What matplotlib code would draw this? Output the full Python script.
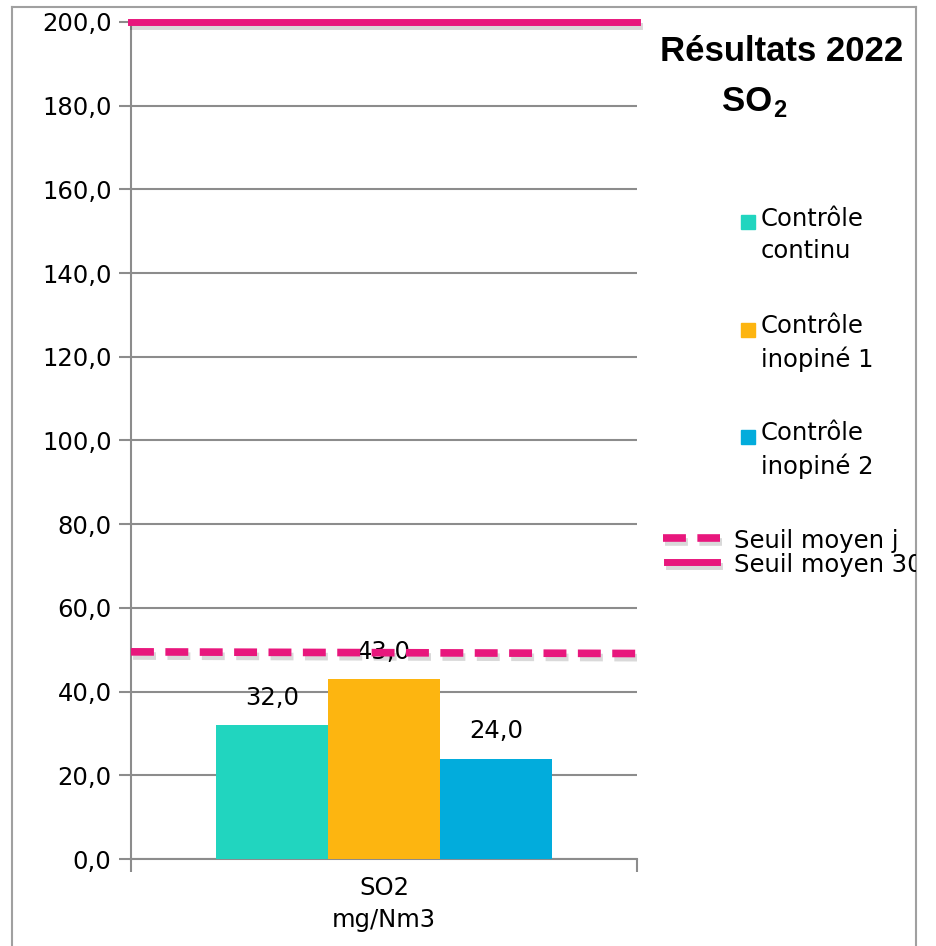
import matplotlib
matplotlib.use("Agg")
import matplotlib.pyplot as plt
import matplotlib.patheffects as pe
from matplotlib.lines import Line2D
from matplotlib.patches import Rectangle

# données
categorie = ["SO2\nmg/Nm3"]
series = ["Contrôle\ncontinu", "Contrôle\ninopiné 1", "Contrôle\ninopiné 2"]
valeurs = [32.0, 43.0, 24.0]
couleurs = ["#21d5bf", "#fdb510", "#02acdc"]
seuil_j = [49.5, 49.1]
seuil_30 = [200.0, 200.0]
seuils_noms = ["Seuil moyen j", "Seuil moyen 30"]
rose = "#e8177d"

plt.rcParams["font.family"] = ["DejaVu Sans"]
fs = 17.5

W, H = 937, 946
fig = plt.figure(figsize=(W / 100, H / 100), dpi=100)

# cadre de fond (bordure du graphique)
cadre = fig.add_axes([12 / W, -0.01, (916 - 12) / W, 1 - 7 / H + 0.01])
cadre.set_xlim(12, 916)
cadre.set_ylim(H + 9.5, 7)
cadre.set_xticks([])
cadre.set_yticks([])
cadre.patch.set_alpha(0)
for s in cadre.spines.values():
    s.set_color("#a0a0a0")
    s.set_linewidth(1.5)

ax = fig.add_axes([131 / W, 1 - 859 / H, (637 - 131) / W, (859 - 22) / H])
ax.patch.set_alpha(0)

larg = 112 / 506
pos = [-larg, 0, larg]
barres = ax.bar(pos, valeurs, width=larg, color=couleurs, zorder=3)
for x, v in zip(pos, valeurs):
    ax.text(x, v + 3.6, f"{v:.1f}".replace(".", ","), ha="center", va="bottom",
            fontsize=fs, zorder=3.5)

ombre = [pe.SimpleLineShadow(offset=(1.5, -3), alpha=0.15, rho=0.5), pe.Normal()]
ax.plot([-0.5, 0.5], seuil_j, color=rose, lw=5.5, dashes=(3, 1.5), zorder=4,
        path_effects=ombre, solid_capstyle="butt")
ax.plot([-0.5, 0.5], seuil_30, color=rose, lw=5, zorder=4, clip_on=False,
        path_effects=ombre)

ax.set_xlim(-0.5, 0.5)
ax.set_ylim(0, 200)
ax.set_yticks(range(0, 201, 20))
ax.set_yticklabels([f"{v:.1f}".replace(".", ",") for v in range(0, 201, 20)],
                   fontsize=fs)
ax.set_xticks([-0.5, 0.5])
ax.set_xticklabels(["", ""])
ax.tick_params(axis="both", color="#8c8c8c", width=1.5, length=9)
ax.tick_params(axis="y", pad=5)
ax.grid(axis="y", color="#8c8c8c", lw=1.5, zorder=0)
for s in ["top", "right"]:
    ax.spines[s].set_visible(False)
for s in ["left", "bottom"]:
    ax.spines[s].set_color("#8c8c8c")
    ax.spines[s].set_linewidth(1.5)
ax.text(0, -4, categorie[0], ha="center", va="top", fontsize=fs,
        linespacing=1.45, transform=ax.transData)

# titre
cadre.text(782, 52, "Résultats 2022", ha="center", va="center",
           fontsize=25, fontweight="bold", family="Liberation Sans")
cadre.text(772, 102, "SO", ha="right", va="center",
           fontsize=25, fontweight="bold", family="Liberation Sans")
cadre.text(773, 111, "2", ha="left", va="center",
           fontsize=17, fontweight="bold", family="Liberation Sans")

# légende
for (y, nom, c) in zip([235, 343, 450], series, couleurs):
    cadre.add_patch(Rectangle((741, y - 20), 14, 14, color=c))
    cadre.text(761, y, nom, ha="left", va="center", fontsize=fs,
               linespacing=1.4)

cadre.add_line(Line2D([663, 720], [538, 538], color=rose, lw=5.5, dashes=(3, 1.5),
                      path_effects=ombre))
cadre.add_line(Line2D([667, 717], [562, 562], color=rose, lw=5,
                      path_effects=ombre))
cadre.text(734, 541, seuils_noms[0], ha="left", va="center", fontsize=fs,
           clip_on=True)
cadre.text(734, 565, seuils_noms[1], ha="left", va="center", fontsize=fs,
           clip_on=True)

fig.savefig("out.png", dpi=100)
